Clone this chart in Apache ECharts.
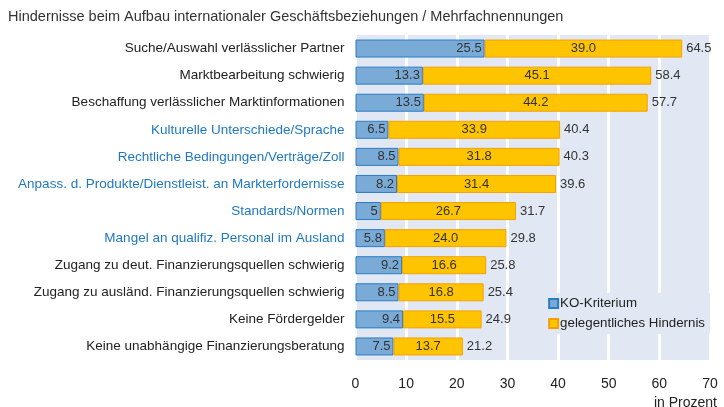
<!DOCTYPE html>
<html><head><meta charset="utf-8">
<script src="https://cdn.jsdelivr.net/npm/echarts@6/dist/echarts.min.js"></script>
<style>html,body{margin:0;padding:0;background:#fff}#c{width:724px;height:407px}</style>
</head><body><div id="c"></div>
<script>
const categories = [
  "Suche/Auswahl verlässlicher Partner",
  "Marktbearbeitung schwierig",
  "Beschaffung verlässlicher Marktinformationen",
  "Kulturelle Unterschiede/Sprache",
  "Rechtliche Bedingungen/Verträge/Zoll",
  "Anpass. d. Produkte/Dienstleist. an Markterfordernisse",
  "Standards/Normen",
  "Mangel an qualifiz. Personal im Ausland",
  "Zugang zu deut. Finanzierungsquellen schwierig",
  "Zugang zu ausländ. Finanzierungsquellen schwierig",
  "Keine Fördergelder",
  "Keine unabhängige Finanzierungsberatung"
];
const blueCategories = [3, 4, 5, 6, 7];
const koValues = [25.5, 13.3, 13.5, 6.5, 8.5, 8.2, 5, 5.8, 9.2, 8.5, 9.4, 7.5];
const koText = ["25.5","13.3","13.5","6.5","8.5","8.2","5","5.8","9.2","8.5","9.4","7.5"];
const gelegValues = [39.0, 45.1, 44.2, 33.9, 31.8, 31.4, 26.7, 24.0, 16.6, 16.8, 15.5, 13.7];
const totals = [64.5, 58.4, 57.7, 40.4, 40.3, 39.6, 31.7, 29.8, 25.8, 25.4, 24.9, 21.2];
const xTicks = [0, 10, 20, 30, 40, 50, 60, 70];

const FONT = '"Liberation Sans", Arial, sans-serif';
const chart = echarts.init(document.getElementById('c'), null, {renderer: 'canvas'});
chart.setOption({
  animation: false,
  title: {
    text: 'Hindernisse beim Aufbau internationaler Geschäftsbeziehungen / Mehrfachnennungen',
    left: 3, top: 4,
    textStyle: {fontFamily: FONT, fontSize: 14.5, fontWeight: 'normal', color: '#333'}
  },
  grid: {
    left: 355.5, right: 14, top: 35, bottom: 47,
    show: true, backgroundColor: '#e1e8f4', borderWidth: 0
  },
  legend: {
    orient: 'vertical', right: 14, top: 293,
    backgroundColor: '#e1e8f4',
    padding: [4, 5, 4, 4],
    itemWidth: 9, itemHeight: 9, itemGap: 7,
    icon: 'rect',
    data: ['KO-Kriterium', 'gelegentliches Hindernis'],
    textStyle: {fontFamily: FONT, fontSize: 13.3, color: '#222', padding: [0, 0, 0, -3]}
  },
  xAxis: {
    type: 'value', min: xTicks[0], max: xTicks[xTicks.length - 1], interval: 10,
    axisLine: {show: false}, axisTick: {show: false},
    splitLine: {show: true, lineStyle: {color: '#ffffff', width: 3}},
    axisLabel: {fontFamily: FONT, fontSize: 14, color: '#222', margin: 17}
  },
  yAxis: {
    type: 'category', data: categories, inverse: true,
    axisLine: {show: false}, axisTick: {show: false},
    axisLabel: {
      fontFamily: FONT, fontSize: 13.5, margin: 11,
      color: (v, i) => blueCategories.includes(i) ? '#1f78c1' : '#222'
    }
  },
  series: [
    {
      name: 'KO-Kriterium', type: 'bar', stack: 's', barWidth: 18,
      data: koValues,
      itemStyle: {color: '#7aaad6', borderColor: '#2a7cc7', borderWidth: 1},
      label: {show: true, position: 'insideRight', distance: 3, fontFamily: FONT, fontSize: 13, color: '#333',
        formatter: p => koText[p.dataIndex]}
    },
    {
      name: 'gelegentliches Hindernis', type: 'bar', stack: 's', barWidth: 18,
      data: gelegValues,
      itemStyle: {color: '#ffc400', borderColor: '#f5a000', borderWidth: 1},
      label: {show: true, position: 'inside', fontFamily: FONT, fontSize: 13, color: '#333',
        formatter: p => p.value.toFixed(1)}
    },
    {
      name: 'total', type: 'bar', stack: 's', barWidth: 18,
      data: totals.map(() => 0),
      itemStyle: {color: 'transparent'},
      label: {show: true, position: 'right', distance: 4, fontFamily: FONT, fontSize: 13, color: '#333',
        formatter: p => totals[p.dataIndex].toFixed(1)}
    }
  ],
  graphic: [{
    type: 'text', right: 7, top: 396,
    style: {text: 'in Prozent', fontFamily: FONT, fontSize: 14, fill: '#222'}
  }]
});
</script></body></html>
